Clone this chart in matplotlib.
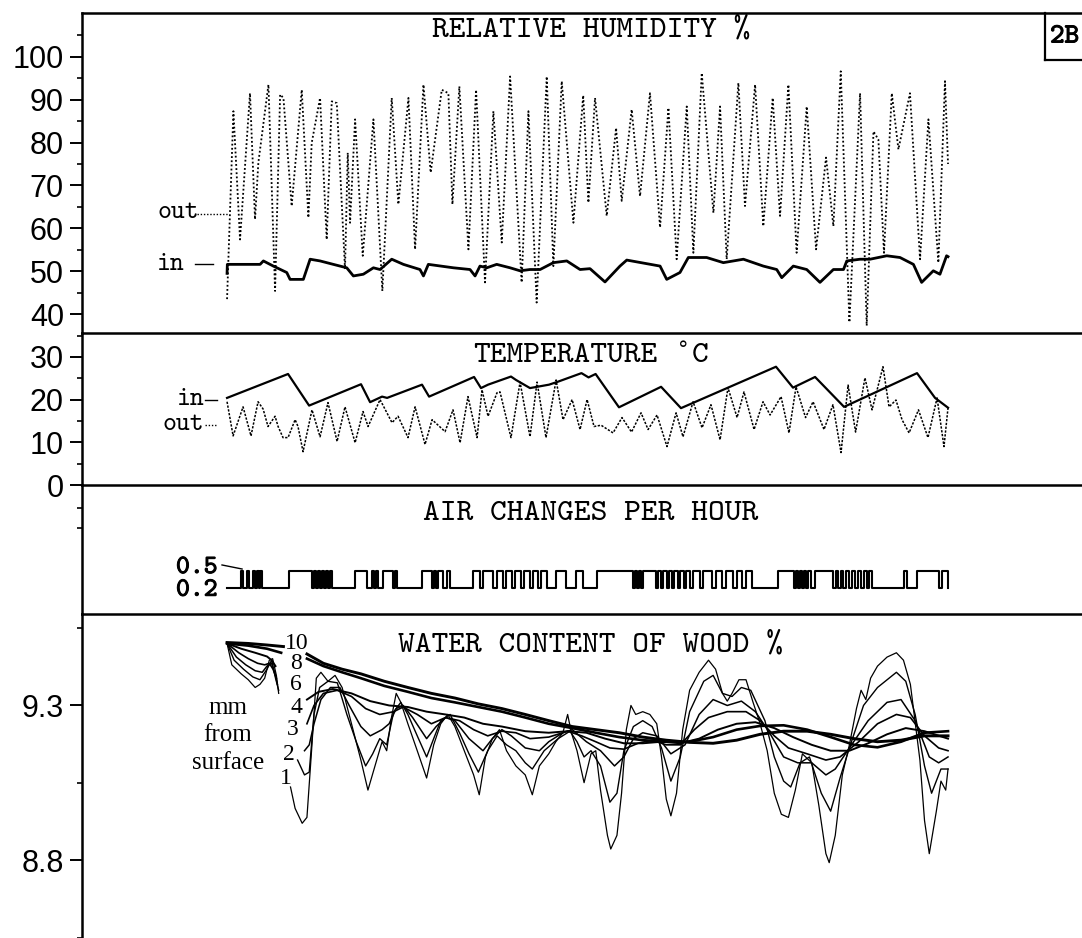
#!/usr/bin/env python
"""Panel 2B: relative humidity, temperature, air changes and water content of wood."""

import matplotlib

matplotlib.use("Agg")
import matplotlib.pyplot as plt
from matplotlib import patheffects
from matplotlib.lines import Line2D

GAP = float("nan")

# time axis: days from the start of the record
RH_OUT_DAY = [0.0, 0.44, 0.90, 1.59, 1.94, 2.17, 2.87, 3.33, 3.68, 3.91, 4.48, 5.18, 5.64, 5.87,
              6.45, 6.91, 7.26, 7.61, 8.18, 8.37, 8.53, 8.88, 9.41, 10.15, 10.77, 11.42, 11.88,
              12.58, 13.04, 13.62, 14.12, 14.89, 15.35, 15.63, 16.11, 16.74, 17.27, 17.89, 18.47,
              19.05, 19.63, 20.43, 20.90, 21.47, 22.17, 22.63, 23.21, 24.02, 24.70, 25.06, 25.52,
              26.33, 26.98, 27.37, 28.06, 28.64, 29.33, 30.03, 30.61, 31.18, 31.88, 32.34, 32.92,
              33.73, 34.19, 34.65, 35.46, 35.92, 36.62, 37.19, 37.84, 38.35, 38.93, 39.50, 40.20,
              40.85, 41.54, 42.05, 42.56, 43.16, 43.90, 44.36, 44.83, 45.17, 45.56, 46.10, 46.56,
              47.36, 48.06, 48.64, 49.33, 49.79, 50.0]
RH_OUT = [43.5, 87.3, 57.4, 91.5, 62.1, 75.3, 93.5, 45.4, 91.2, 90.4, 65.2, 92.3, 62.5, 79.9,
          90.4, 57.4, 89.6, 89.2, 50.5, 77.6, 61.3, 85.4, 53.6, 85.4, 45.4, 90.4, 65.6,
          90.4, 55.1, 93.5, 73.0, 92.3, 91.5, 65.6, 93.1, 55.1, 92.3, 47.4, 87.3,
          56.7, 95.4, 47.4, 87.3, 42.7, 95.4, 51.2, 94.3, 61.3, 91.0, 66.0, 90.4,
          62.9, 83.4, 66.4, 87.7, 67.5, 91.5, 60.2, 88.1, 52.8, 88.4, 54.3, 96.2,
          63.6, 88.4, 52.8, 93.9, 65.2, 93.5, 60.5, 90.4, 62.9, 93.5, 54.3, 88.4,
          55.1, 76.5, 60.5, 96.6, 38.1, 91.5, 37.3, 82.6, 80.7, 54.3, 91.5, 78.4,
          91.5, 52.8, 85.4, 52.0, 94.3, 75.0]

RH_IN_DAY = [0.0, 0.02, 2.29, 2.52, 3.21, 4.14, 4.37, 5.29, 5.76, 6.45, 7.37, 8.30, 8.76, 9.45,
             10.15, 10.61, 11.42, 12.23, 13.38, 13.62, 13.96, 15.70, 16.85, 17.20, 17.54, 18.01,
             18.70, 19.63, 20.32, 21.01, 21.71, 22.63, 23.56, 24.48, 25.17, 26.21, 27.25, 27.72,
             30.03, 30.49, 31.41, 31.99, 33.26, 34.42, 35.81, 37.19, 38.12, 38.47, 39.27, 40.20,
             41.12, 42.05, 42.75, 42.98, 43.90, 44.59, 45.75, 46.67, 47.60, 48.17, 48.98, 49.44,
             49.90, 50.0]
RH_IN = [49.5, 51.6, 51.6, 52.4, 51.2, 49.7, 48.1, 48.1, 52.8, 52.4, 51.6, 50.8, 48.9, 49.3,
         50.8, 50.4, 52.8, 51.6, 50.4, 48.9, 51.6, 50.8, 50.4, 48.9, 51.2, 50.8,
         51.6, 50.8, 50.1, 50.4, 50.4, 52.0, 52.4, 50.4, 50.6, 47.5, 51.2, 52.6,
         51.2, 48.1, 49.7, 53.2, 53.2, 52.0, 52.8, 51.2, 50.4, 48.5, 51.2, 50.4,
         47.4, 50.4, 50.4, 52.4, 52.8, 52.8, 53.6, 53.2, 51.6, 47.4, 50.1, 49.3,
         53.6, 53.4]

TEMP_IN_DAY = [0.0, 4.23, 5.69, 9.29, 9.92, 10.75, 11.10, 13.52, 14.01, 17.13, 17.61, 18.10,
               19.69, 20.04, 21.01, 22.33, 22.95, 24.58, 25.07, 25.56, 27.18, 30.10, 31.48,
               38.07, 39.25, 40.78, 42.79, 47.85, 49.10, 50.0]
TEMP_IN = [20.4, 26.0, 18.6, 23.6, 19.4, 20.7, 20.4, 23.5, 20.7, 25.3, 22.7, 23.5,
           25.4, 24.6, 22.7, 23.5, 24.2, 26.2, 25.2, 26.0, 18.2, 23.0, 18.0,
           27.7, 22.8, 25.3, 18.3, 26.2, 20.4, 18.1]

TEMP_OUT_DAY = [0.0, 0.42, 1.11, 1.66, 2.15, 2.50, 2.84, 3.33, 3.54, 3.88, 4.23, 4.72, 4.92, 5.27,
                5.89, 6.45, 7.00, 7.63, 8.18, 8.88, 9.43, 9.78, 10.61, 11.44, 11.86, 12.55,
                13.04, 13.73, 14.22, 15.12, 15.67, 16.16, 16.71, 17.34, 17.68, 18.10, 18.72,
                18.93, 19.69, 20.32, 21.01, 21.50, 22.12, 22.82, 23.30, 23.93, 24.48, 24.97,
                25.45, 25.94, 26.77, 27.39, 28.05, 28.71, 29.20, 29.82, 30.51, 31.14, 31.62,
                32.32, 32.94, 33.56, 34.19, 34.74, 35.37, 35.85, 36.55, 37.17, 37.66, 38.42,
                38.97, 39.46, 40.12, 40.64, 41.40, 42.02, 42.58, 43.07, 43.59, 44.24, 44.73,
                45.49, 45.91, 46.39, 46.81, 47.30, 47.95, 48.61, 49.24, 49.72, 50.0]
TEMP_OUT = [19.5, 11.5, 18.3, 11.5, 19.5, 17.8, 13.7, 16.1, 13.7, 11.1, 11.1, 15.3, 13.7, 7.8,
            17.6, 11.3, 19.3, 10.2, 18.3, 9.9, 17.2, 13.7, 20.0, 14.6, 16.1, 11.1,
            18.3, 9.5, 15.3, 12.5, 17.6, 9.9, 20.7, 11.1, 22.3, 16.1, 21.6,
            21.8, 11.1, 24.1, 11.3, 24.1, 11.1, 24.6, 15.3, 20.0, 13.0, 20.0,
            13.7, 14.0, 12.2, 15.8, 12.4, 16.9, 13.0, 16.4, 9.0, 16.9, 11.3,
            19.5, 13.4, 18.8, 10.6, 22.8, 15.8, 21.8, 13.0, 19.5, 16.4, 20.7,
            12.2, 23.0, 15.8, 19.5, 13.0, 18.8, 7.6, 23.4, 12.4, 25.1, 17.6,
            27.7, 18.3, 19.9, 15.3, 12.2, 17.6, 11.1, 20.4, 9.0, 18.1]

# ventilation: 0.2 air changes per hour, raised to 0.5 during these periods
AIR_LOW, AIR_HIGH = 0.2, 0.5
AIR_HIGH_START = [0.97, 1.39, 1.80, 2.08, 2.29, 4.30, 6.03, 6.31, 6.59, 6.87, 7.14, 8.88, 10.06,
                  10.33, 10.82, 11.65, 13.52, 14.36, 14.63, 15.26, 17.06, 17.75, 18.72, 19.35,
                  19.97, 20.60, 21.22, 21.78, 22.82, 24.20, 25.66, 28.29, 28.57, 28.85, 29.89,
                  30.24, 30.65, 31.00, 31.41, 31.83, 32.32, 33.01, 33.91, 34.61, 35.37, 35.99,
                  38.18, 39.43, 39.71, 40.01, 40.29, 40.78, 42.23, 42.58, 42.93, 43.34, 43.76,
                  44.17, 44.52, 46.95, 47.85, 49.58]
AIR_HIGH_END = [1.11, 1.53, 1.94, 2.22, 2.43, 5.89, 6.17, 6.45, 6.73, 7.00, 7.28, 9.71, 10.19,
                10.47, 11.51, 11.79, 14.22, 14.49, 14.98, 15.46, 17.55, 18.45, 19.14, 19.76,
                20.39, 21.01, 21.57, 22.19, 23.51, 24.69, 28.16, 28.43, 28.71, 29.75, 30.10,
                30.51, 30.86, 31.28, 31.69, 32.11, 32.80, 33.63, 34.33, 35.09, 35.71, 36.41,
                39.29, 39.57, 39.85, 40.15, 40.50, 42.02, 42.37, 42.72, 43.13, 43.55, 43.97,
                44.38, 44.73, 47.16, 49.38, 50.0]

# water content of wood (%) at 1, 2, 3, 4, 6, 8 and 10 mm from the surface
W1_DAY = [0.00, 0.33, 0.98, 1.47, 1.95, 2.28, 2.61, 2.93, 3.16, 3.42, 3.58, GAP,
          4.40, 4.72, 5.21, 5.54, 5.86, 6.19, 6.51, 7.00, 7.49, 7.98, 8.63, 9.28, 9.77, 10.26,
          10.75, 11.07, 11.40, 11.73, 12.05, 12.54, 13.19, 13.84, 14.33, 14.82, 15.31, 15.80,
          16.45, 17.10, 17.49, 17.92, 18.40, 18.89, 19.38, 20.03, 20.68, 21.17, 21.66, 22.31,
          22.80, 23.29, 23.62, 23.88, 24.27, 24.76, 25.24, 25.57, 25.90, 26.38, 26.61, 27.04,
          27.36, 27.69, 28.01, 28.34, 28.83, 29.32, 29.80, 30.13, 30.46, 30.78, 31.17, 31.60,
          32.08, 32.74, 33.39, 33.88, 34.36, 34.69, 35.02, 35.50, 35.99, 36.48, 36.97, 37.46,
          37.95, 38.44, 38.93, 39.41, 39.90, 40.55, 41.04, 41.53, 41.76, 42.18, 42.67, 43.16,
          43.65, 43.97, 44.30, 44.63, 45.11, 45.77, 46.42, 46.91, 47.39, 48.05, 48.37, 48.70,
          49.19, 49.51, 49.84, 50.00]
W1 = [9.500, 9.431, 9.402, 9.383, 9.358, 9.368, 9.388, 9.446, 9.451, 9.397, 9.339, GAP,
      9.037, 8.968, 8.920, 8.939, 9.154, 9.388, 9.407, 9.378, 9.397, 9.358, 9.241, 9.124, 9.027,
      9.105, 9.183, 9.154, 9.261, 9.339, 9.310, 9.241, 9.154, 9.066, 9.173, 9.241, 9.271, 9.232,
      9.154, 9.076, 9.012, 9.134, 9.193, 9.222, 9.154, 9.105, 9.076, 9.012, 9.105, 9.144,
      9.183, 9.212, 9.271, 9.212, 9.154, 9.051, 9.144, 9.154, 9.027, 8.881, 8.837, 8.881,
      9.017, 9.222, 9.300, 9.271, 9.280, 9.271, 9.241, 9.134, 8.998, 8.944, 9.017, 9.222,
      9.349, 9.407, 9.446, 9.417, 9.339, 9.314, 9.339, 9.383, 9.383, 9.310, 9.241, 9.154,
      9.017, 8.949, 8.939, 9.027, 9.144, 9.115, 8.978, 8.822, 8.793, 8.881, 9.076, 9.173,
      9.290, 9.349, 9.319, 9.388, 9.427, 9.456, 9.470, 9.446, 9.368, 9.124, 8.929, 8.822,
      8.959, 9.056, 9.027, 9.095]

W2_DAY = [0.00, 0.49, 1.14, 1.79, 2.28, 2.77, 3.09, 3.36, 3.58, GAP,
          4.89, 5.37, 5.70, 6.03, 6.42, 7.00, 7.65, 8.31, 8.96, 9.61, 10.10, 10.59, 11.07, 11.56,
          12.05, 12.54, 13.19, 13.84, 14.33, 14.82, 15.47, 16.12, 16.78, 17.43, 18.08, 18.73,
          19.38, 20.03, 20.68, 21.17, 21.99, 22.96, 23.78, 24.27, 24.76, 25.24, 25.90, 26.55,
          27.04, 27.52, 28.18, 28.83, 29.48, 30.13, 30.78, 31.43, 32.08, 33.06, 33.71, 34.36,
          35.02, 35.67, 36.32, 37.30, 37.95, 38.60, 39.09, 39.74, 40.39, 41.21, 41.86, 42.51,
          43.16, 44.14, 45.11, 46.42, 47.07, 47.72, 48.37, 48.86, 49.51, 50.00]
W2 = [9.500, 9.446, 9.417, 9.392, 9.383, 9.417, 9.446, 9.388, 9.349, GAP,
      9.124, 9.076, 9.085, 9.271, 9.358, 9.378, 9.373, 9.271, 9.183, 9.105, 9.144, 9.193, 9.173,
      9.280, 9.310, 9.271, 9.202, 9.134, 9.193, 9.251, 9.271, 9.212, 9.144, 9.085, 9.154, 9.202,
      9.173, 9.154, 9.115, 9.095, 9.154, 9.193, 9.217, 9.183, 9.134, 9.154, 9.105, 8.988,
      9.017, 9.154, 9.232, 9.251, 9.232, 9.163, 9.056, 9.134, 9.280, 9.378, 9.397, 9.339,
      9.329, 9.358, 9.349, 9.251, 9.134, 9.056, 9.037, 9.115, 9.134, 9.017, 8.959, 9.066,
      9.163, 9.300, 9.358, 9.407, 9.378, 9.271, 9.105, 9.017, 9.095, 9.095]

W3_DAY = [0.00, 0.65, 1.30, 1.95, 2.44, 2.77, 3.09, 3.36, 3.49, GAP,
          5.37, 5.70, 6.03, 6.51, 7.17, 7.82, 8.47, 9.28, 9.93, 10.75, 11.24, 11.73, 12.21, 12.87,
          13.84, 14.50, 15.15, 15.80, 16.78, 17.75, 18.40, 19.06, 19.71, 20.68, 21.66, 22.31,
          23.29, 23.94, 24.92, 25.90, 26.87, 27.52, 28.18, 28.83, 29.80, 30.78, 31.76, 32.74,
          33.71, 34.69, 35.67, 36.64, 37.62, 38.60, 39.58, 40.55, 41.53, 42.18, 43.16, 44.46,
          45.77, 46.74, 47.72, 48.70, 49.35, 50.00]
W3 = [9.500, 9.456, 9.431, 9.412, 9.407, 9.427, 9.436, 9.397, 9.368, GAP,
      9.154, 9.173, 9.241, 9.319, 9.358, 9.358, 9.300, 9.232, 9.202, 9.222, 9.241, 9.290, 9.300,
      9.261, 9.193, 9.232, 9.261, 9.251, 9.193, 9.154, 9.193, 9.222, 9.202, 9.163, 9.154, 9.183,
      9.212, 9.222, 9.183, 9.154, 9.105, 9.134, 9.193, 9.212, 9.202, 9.144, 9.173, 9.271,
      9.319, 9.300, 9.314, 9.280, 9.212, 9.134, 9.115, 9.115, 9.076, 9.095, 9.163, 9.251,
      9.310, 9.319, 9.251, 9.134, 9.115, 9.134]

W4_DAY = [0.00, 0.81, 1.47, 2.12, 2.61, 2.93, 3.19, 3.42, GAP,
          5.54, 6.03, 6.68, 7.65, 8.63, 9.61, 10.59, 11.56, 12.21, 13.19, 14.17, 15.15, 16.12,
          17.10, 18.08, 19.06, 20.03, 21.01, 22.31, 23.62, 24.59, 25.57, 26.55, 27.52, 28.50,
          29.48, 30.46, 31.43, 32.41, 33.39, 34.69, 35.99, 36.97, 37.95, 38.93, 40.23, 41.53,
          42.51, 43.81, 45.11, 46.42, 47.39, 48.37, 49.35, 50.00]
W4 = [9.500, 9.470, 9.451, 9.436, 9.431, 9.436, 9.417, 9.388, GAP,
      9.241, 9.300, 9.339, 9.349, 9.329, 9.290, 9.271, 9.280, 9.295, 9.271, 9.241, 9.261, 9.251,
      9.222, 9.202, 9.217, 9.212, 9.193, 9.198, 9.217, 9.202, 9.183, 9.163, 9.159, 9.178,
      9.188, 9.173, 9.173, 9.222, 9.261, 9.280, 9.280, 9.251, 9.202, 9.163, 9.144, 9.124,
      9.134, 9.183, 9.241, 9.271, 9.261, 9.202, 9.163, 9.154]

W6_DAY = [0.00, 0.98, 1.95, 2.77, 3.09, 3.36, GAP,
          5.54, 6.35, 7.33, 8.63, 9.93, 11.24, 12.54, 13.84, 15.15, 16.45, 17.75, 19.06, 20.68,
          22.31, 23.62, 24.92, 26.22, 27.52, 28.83, 30.13, 31.43, 32.74, 34.04, 35.34, 36.64,
          37.95, 39.25, 40.55, 41.86, 43.16, 44.46, 45.77, 47.07, 48.37, 50.00]
W6 = [9.500, 9.483, 9.470, 9.458, 9.446, 9.427, GAP,
      9.319, 9.344, 9.353, 9.339, 9.314, 9.300, 9.295, 9.280, 9.271, 9.261, 9.241, 9.232, 9.217,
      9.212, 9.217, 9.212, 9.193, 9.178, 9.178, 9.183, 9.178, 9.193, 9.222, 9.241, 9.246,
      9.227, 9.198, 9.173, 9.154, 9.154, 9.178, 9.207, 9.227, 9.217, 9.193]

W8_DAY = [0.00, 1.47, 2.77, 3.75, GAP,
          5.54, 6.68, 7.98, 9.28, 10.91, 12.54, 14.17, 15.80, 17.43, 19.06, 20.68, 22.31, 23.94,
          25.57, 27.20, 28.83, 30.46, 32.08, 33.71, 35.34, 36.97, 38.60, 40.23, 41.86, 43.49,
          45.11, 46.74, 48.37, 50.00]
W8 = [9.500, 9.493, 9.483, 9.470, GAP,
      9.451, 9.427, 9.407, 9.388, 9.363, 9.344, 9.324, 9.310, 9.295, 9.280, 9.261, 9.241, 9.227,
      9.212, 9.198, 9.188, 9.183, 9.183, 9.198, 9.222, 9.234, 9.236, 9.222, 9.198, 9.173,
      9.165, 9.183, 9.212, 9.217]

W10_DAY = [0.00, 1.47, 2.77, 3.91, GAP,
           5.54, 6.68, 7.98, 9.28, 10.91, 12.54, 14.17, 15.80, 17.43, 19.06, 20.68, 22.31, 23.94,
           25.57, 27.20, 28.83, 30.46, 32.08, 33.71, 35.34, 36.97, 38.60, 40.23, 41.86, 43.49,
           45.11, 46.74, 48.37, 50.00]
W10 = [9.503, 9.500, 9.495, 9.490, GAP,
       9.466, 9.436, 9.417, 9.402, 9.378, 9.358, 9.339, 9.324, 9.305, 9.290, 9.271, 9.251, 9.232,
       9.222, 9.212, 9.198, 9.188, 9.181, 9.178, 9.188, 9.207, 9.217, 9.217, 9.207, 9.193,
       9.183, 9.188, 9.202, 9.202]

RH_TICKS = [40, 50, 60, 70, 80, 90, 100]
TEMP_TICKS = [0, 10, 20, 30]
WOOD_TICKS = [8.8, 9.3]

FIG_W, FIG_H = 1082, 938
AX_LEFT, AX_RIGHT = 82, 1100
X_LIMITS = (-10.06, 60.54)

TYPE = "cmtt10"          # typewriter face of the original plotter output
SANS = "Liberation Sans"
SERIF = "Liberation Serif"
TICK_SIZE = 22
TITLE_SIZE = 23
ADVANCE = 0.525 * TITLE_SIZE  # cmtt10 glyph advance, points
DEGREE_SIZE = 15
INK = [patheffects.withStroke(linewidth=0.7, foreground="black")]


def panel(fig, top_px, bottom_px):
    rect = [AX_LEFT / FIG_W, 1 - bottom_px / FIG_H,
            (AX_RIGHT - AX_LEFT) / FIG_W, (bottom_px - top_px) / FIG_H]
    ax = fig.add_axes(rect)
    ax.set_facecolor("none")
    ax.set_xlim(*X_LIMITS)
    ax.set_xticks([])
    for side in ("right", "bottom"):
        ax.spines[side].set_visible(False)
    for side in ("left", "top"):
        ax.spines[side].set_linewidth(1.8)
    ax.tick_params(axis="y", which="major", direction="out", length=9, width=1.4, pad=4)
    ax.tick_params(axis="y", which="minor", direction="out", length=3.5, width=1.2)
    return ax


def set_ticks(ax, major, minor, labels=True):
    ax.set_yticks(major)
    if labels:
        ax.set_yticklabels([f"{v:g}" for v in major], fontfamily=SANS, fontsize=TICK_SIZE)
    else:
        ax.set_yticklabels([])
    ax.set_yticks(minor, minor=True)


def title(ax, y, text):
    ax.text(0.5, y, text, transform=ax.transAxes, ha="center", va="baseline",
            fontfamily=TYPE, fontsize=TITLE_SIZE)


def temperature_title(ax, y):
    # cmtt10 has no degree sign: set the parts on the same monospace grid
    half = 7 * ADVANCE
    for text, column in [("TEMPERATURE", 0), ("C", 13)]:
        ax.annotate(text, xy=(0.5, y), xycoords="axes fraction",
                    xytext=(column * ADVANCE - half, 0), textcoords="offset points",
                    ha="left", va="baseline", fontfamily=TYPE, fontsize=TITLE_SIZE)
    ax.annotate("°", xy=(0.5, y), xycoords="axes fraction",
                xytext=(12.5 * ADVANCE - half, 0.2 * TITLE_SIZE), textcoords="offset points",
                ha="center", va="baseline", fontfamily="DejaVu Sans", fontsize=DEGREE_SIZE)


def main():
    fig = plt.figure(figsize=(FIG_W / 100, FIG_H / 100), dpi=100)
    dotted = (0, (1.0, 1.3))

    # relative humidity
    ax = panel(fig, 13, 333)
    ax.set_ylim(35.6, 110.2)
    set_ticks(ax, RH_TICKS, [45, 55, 65, 75, 85, 95, 105])
    ax.plot(RH_OUT_DAY, RH_OUT, color="black", linewidth=1.3, linestyle=dotted)
    ax.plot(RH_IN_DAY, RH_IN, color="black", linewidth=2.0)
    title(ax, 0.926, "RELATIVE HUMIDITY %")
    ax.text(-4.85, 63.7, "out", fontfamily=TYPE, fontsize=19, va="center")
    ax.plot([-2.08, 0.07], [63.3, 63.3], color="black", linewidth=1.0, linestyle=dotted)
    ax.text(-4.85, 51.6, "in", fontfamily=TYPE, fontsize=19, va="center")
    ax.plot([-2.22, -0.97], [51.6, 51.6], color="black", linewidth=1.0)

    # temperature
    ax = panel(fig, 333, 485)
    ax.set_ylim(0, 35.6)
    set_ticks(ax, TEMP_TICKS, [5, 15, 25, 35])
    ax.plot(TEMP_OUT_DAY, TEMP_OUT, color="black", linewidth=1.1, linestyle=(0, (1.5, 1.0)))
    ax.plot(TEMP_IN_DAY, TEMP_IN, color="black", linewidth=1.6)
    temperature_title(ax, 0.809)
    ax.text(-3.47, 20.0, "in", fontfamily=TYPE, fontsize=19, va="center")
    ax.plot([-1.53, -0.69], [20.0, 20.0], color="black", linewidth=1.0)
    ax.text(-4.51, 14.1, "out", fontfamily=TYPE, fontsize=19, va="center")
    ax.plot([-1.53, -0.69], [14.1, 14.1], color="black", linewidth=1.0, linestyle=dotted)

    # air changes per hour
    ax = panel(fig, 485, 614)
    ax.set_ylim(-0.259, 2.017)
    set_ticks(ax, [], [1.26, 1.61], labels=False)
    steps_x, steps_y = [0.0], [AIR_LOW]
    for start, end in zip(AIR_HIGH_START, AIR_HIGH_END):
        steps_x += [start, end]
        steps_y += [AIR_HIGH, AIR_LOW]
    ax.step(steps_x, steps_y, where="post", color="black", linewidth=1.5)
    title(ax, 0.729, "AIR CHANGES PER HOUR")
    for text, y in [("0.5", 0.56), ("0.2", 0.16)]:
        ax.text(-3.54, y, text, fontfamily=TYPE, fontsize=19, va="center", path_effects=INK)
    ax.plot([-0.35, 1.04], [0.606, 0.535], color="black", linewidth=1.0)

    # water content of wood
    ax = panel(fig, 614, 938)
    ax.set_ylim(8.648, 9.595)
    set_ticks(ax, WOOD_TICKS, [8.55, 9.05, 9.55])
    curves = [(W1_DAY, W1, 0.9), (W2_DAY, W2, 1.0), (W3_DAY, W3, 1.1), (W4_DAY, W4, 1.2),
              (W6_DAY, W6, 1.4), (W8_DAY, W8, 1.9), (W10_DAY, W10, 2.1)]
    for days, values, lw in curves:
        ax.plot(days, values, color="black", linewidth=lw)
    title(ax, 0.883, "WATER CONTENT OF WOOD %")
    depth_labels = [("10", 4.02, 9.499), ("8", 4.37, 9.436), ("6", 4.37, 9.369),
                    ("4", 4.37, 9.294), ("3", 4.16, 9.222), ("2", 3.88, 9.143), ("1", 3.68, 9.064)]
    for text, x, y in depth_labels:
        ax.text(x, y, text, fontfamily=SERIF, fontsize=17, va="center")
    for text, y in [("mm", 9.291), ("from", 9.204), ("surface", 9.116)]:
        ax.text(0.07, y, text, fontfamily=SERIF, fontsize=18, ha="center", va="center")

    # figure tag in the upper right corner
    bx, by = 1045 / FIG_W, 1 - 60 / FIG_H
    fig.add_artist(Line2D([bx, bx], [1 - 13 / FIG_H, by], color="black", linewidth=1.6))
    fig.add_artist(Line2D([bx, 1.0], [by, by], color="black", linewidth=1.6))
    fig.text(1050 / FIG_W, 1 - 37 / FIG_H, "2B", fontfamily=TYPE, fontsize=20,
             va="center", path_effects=INK)

    fig.savefig("out.png", dpi=100)
    plt.close(fig)


if __name__ == "__main__":
    main()
